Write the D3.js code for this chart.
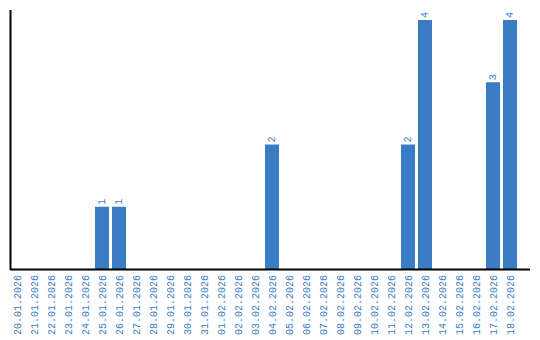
<!DOCTYPE html>
<html>
<head>
<meta charset="utf-8">
<script src="https://cdn.jsdelivr.net/npm/d3@7"></script>
<style>
  body { margin: 0; background: #fff; }
  text { font-family: "Liberation Mono", "DejaVu Sans Mono", monospace; font-size: 10px; fill: #3b7dc4; }
</style>
</head>
<body>
<svg id="chart" width="540" height="340"></svg>
<script>
// days shown on the x axis
const days = [
  '20.01.2026', '21.01.2026', '22.01.2026', '23.01.2026', '24.01.2026', '25.01.2026',
  '26.01.2026', '27.01.2026', '28.01.2026', '29.01.2026', '30.01.2026', '31.01.2026',
  '01.02.2026', '02.02.2026', '03.02.2026', '04.02.2026', '05.02.2026', '06.02.2026',
  '07.02.2026', '08.02.2026', '09.02.2026', '10.02.2026', '11.02.2026', '12.02.2026',
  '13.02.2026', '14.02.2026', '15.02.2026', '16.02.2026', '17.02.2026', '18.02.2026',
];
// count per day
const counts = [
  0, 0, 0, 0, 0, 1,
  1, 0, 0, 0, 0, 0,
  0, 0, 0, 2, 0, 0,
  0, 0, 0, 0, 0, 2,
  4, 0, 0, 0, 3, 4,
];

const ds = days.map((d, i) => ({ dim: d, metric: counts[i] }));
const svg = d3.select('#chart');
const barColor = '#3b7dc4';

const cs = {
  left: 10,
  right: 530,
  top: 10,
  base: 269,
};

const x = d3.scaleBand()
  .domain(days)
  .range([cs.left, cs.right])
  .paddingInner(3 / 17)
  .paddingOuter(0.382)
  .align(0);

const y = d3.scaleLinear()
  .domain([0, 4])
  .range([cs.base, 20]);

// bars
svg.selectAll('rect.bar')
  .data(ds.filter(d => d.metric > 0))
  .enter().append('rect')
  .attr('class', 'bar')
  .attr('x', d => x(d.dim))
  .attr('y', d => y(d.metric))
  .attr('width', x.bandwidth())
  .attr('height', d => y(0) - y(d.metric))
  .attr('fill', barColor);

// value labels, rotated above each bar
svg.selectAll('text.val')
  .data(ds.filter(d => d.metric > 0))
  .enter().append('text')
  .attr('class', 'val')
  .attr('transform', d => `translate(${x(d.dim) + x.bandwidth() / 2 + 2.5},${y(d.metric) - 2}) rotate(-90)`)
  .text(d => d.metric);

// x axis
const xAxis = d3.axisBottom(x).tickSize(0).tickPadding(0);
const gx = svg.append('g')
  .attr('transform', `translate(0,${cs.base})`)
  .call(xAxis);
gx.select('.domain').remove();
gx.selectAll('text')
  .attr('fill', barColor)
  .attr('text-anchor', 'end')
  .attr('dy', null)
  .attr('y', 0)
  .attr('transform', 'translate(3.5,6) rotate(-90)');

// axis lines
svg.append('line')
  .attr('x1', cs.left).attr('x2', cs.right)
  .attr('y1', cs.base + 0.5).attr('y2', cs.base + 0.5)
  .attr('stroke', '#000').attr('stroke-width', 2);
svg.append('line')
  .attr('x1', cs.left + 0.5).attr('x2', cs.left + 0.5)
  .attr('y1', cs.top).attr('y2', cs.base + 1)
  .attr('stroke', '#000').attr('stroke-width', 2);
</script>
</body>
</html>
